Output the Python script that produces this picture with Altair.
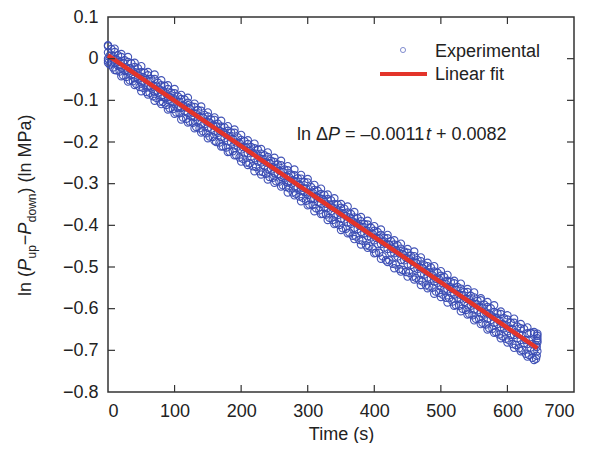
import altair as alt
import pandas as pd

FONT = "Liberation Sans"
BLUE = "#3a4cb4"
RED = "#e3342a"

# time grids of the sampled band (s): two staggered grids and a sparse one
t_vals = list(range(0, 650, 5))
t_half = [0, 2.5, 7.5, 12.5, 17.5, 22.5, 27.5, 32.5, 37.5, 42.5] + list(
    v + 2.5 for v in range(45, 640, 5)) + [643]
t_ten = list(range(0, 650, 10))

# outermost upper circles of the band
top = [0.032, 0.024, 0.011, 0.004, -0.010, -0.018, -0.032, -0.038, -0.052, -0.064,
       -0.073, -0.087, -0.094, -0.108, -0.115, -0.129, -0.141, -0.149, -0.162, -0.170,
       -0.183, -0.196, -0.204, -0.217, -0.225, -0.238, -0.245, -0.258, -0.266, -0.279,
       -0.289, -0.303, -0.312, -0.326, -0.335, -0.349, -0.355, -0.368, -0.380, -0.389,
       -0.402, -0.410, -0.423, -0.436, -0.444, -0.457, -0.463, -0.477, -0.490, -0.498,
       -0.510, -0.519, -0.533, -0.540, -0.553, -0.561, -0.575, -0.584, -0.592, -0.607,
       -0.616, -0.624, -0.637, -0.645, -0.656]

# upper edge of the dense band
hi = [0.030, 0.023, 0.016, 0.008, 0.004, -0.004, -0.008, -0.011, -0.020, -0.023,
      -0.032, -0.034, -0.040, -0.049, -0.049, -0.058, -0.064, -0.065, -0.073, -0.082,
      -0.083, -0.091, -0.097, -0.098, -0.106, -0.114, -0.116, -0.123, -0.125, -0.135,
      -0.139, -0.146, -0.147, -0.156, -0.163, -0.165, -0.173, -0.177, -0.178, -0.189,
      -0.195, -0.198, -0.205, -0.212, -0.215, -0.218, -0.228, -0.232, -0.236, -0.245,
      -0.248, -0.254, -0.256, -0.266, -0.268, -0.278, -0.280, -0.287, -0.288, -0.296,
      -0.297, -0.308, -0.315, -0.317, -0.325, -0.327, -0.337, -0.340, -0.349, -0.350,
      -0.358, -0.360, -0.369, -0.373, -0.381, -0.383, -0.390, -0.397, -0.398, -0.406,
      -0.413, -0.416, -0.423, -0.430, -0.431, -0.438, -0.446, -0.448, -0.456, -0.463,
      -0.466, -0.473, -0.474, -0.483, -0.486, -0.496, -0.498, -0.501, -0.511, -0.514,
      -0.521, -0.524, -0.533, -0.536, -0.539, -0.548, -0.552, -0.560, -0.560, -0.569,
      -0.573, -0.581, -0.580, -0.590, -0.596, -0.599, -0.608, -0.611, -0.613, -0.623,
      -0.626, -0.634, -0.634, -0.643, -0.647, -0.649, -0.659, -0.658, -0.660, -0.660]

# upper-middle of the band
mh = [0.015, 0.007, 0.005, -0.003, -0.008, -0.010, -0.021, -0.023, -0.031, -0.033,
      -0.042, -0.044, -0.051, -0.054, -0.064, -0.067, -0.074, -0.077, -0.084, -0.092,
      -0.094, -0.103, -0.104, -0.112, -0.117, -0.119, -0.130, -0.132, -0.140, -0.142,
      -0.151, -0.153, -0.160, -0.163, -0.173, -0.176, -0.183, -0.186, -0.193, -0.201,
      -0.203, -0.212, -0.213, -0.221, -0.226, -0.228, -0.239, -0.241, -0.249, -0.251,
      -0.260, -0.262, -0.269, -0.272, -0.282, -0.285, -0.292, -0.295, -0.302, -0.310,
      -0.312, -0.321, -0.322, -0.330, -0.335, -0.337, -0.348, -0.350, -0.358, -0.360,
      -0.369, -0.371, -0.378, -0.381, -0.391, -0.394, -0.401, -0.404, -0.411, -0.419,
      -0.421, -0.430, -0.431, -0.439, -0.444, -0.446, -0.457, -0.459, -0.467, -0.469,
      -0.478, -0.480, -0.487, -0.490, -0.500, -0.503, -0.510, -0.513, -0.520, -0.528,
      -0.530, -0.539, -0.540, -0.548, -0.553, -0.555, -0.566, -0.568, -0.576, -0.578,
      -0.587, -0.589, -0.596, -0.599, -0.609, -0.612, -0.619, -0.622, -0.629, -0.637,
      -0.639, -0.648, -0.649, -0.657, -0.662, -0.664, -0.675, -0.677, -0.685, -0.687]

# lower-middle of the band
ml = [0.000, -0.009, -0.009, -0.017, -0.021, -0.029, -0.031, -0.039, -0.047, -0.048,
      -0.057, -0.059, -0.066, -0.069, -0.079, -0.082, -0.089, -0.092, -0.099, -0.102,
      -0.109, -0.118, -0.118, -0.126, -0.130, -0.138, -0.140, -0.148, -0.156, -0.157,
      -0.166, -0.168, -0.175, -0.178, -0.188, -0.191, -0.198, -0.201, -0.208, -0.211,
      -0.218, -0.227, -0.227, -0.235, -0.239, -0.247, -0.249, -0.257, -0.265, -0.266,
      -0.275, -0.277, -0.284, -0.287, -0.297, -0.300, -0.307, -0.310, -0.317, -0.320,
      -0.327, -0.336, -0.336, -0.344, -0.348, -0.356, -0.358, -0.366, -0.374, -0.375,
      -0.384, -0.386, -0.393, -0.396, -0.406, -0.409, -0.416, -0.419, -0.426, -0.429,
      -0.436, -0.445, -0.445, -0.453, -0.457, -0.465, -0.467, -0.475, -0.483, -0.484,
      -0.493, -0.495, -0.502, -0.505, -0.515, -0.518, -0.525, -0.528, -0.535, -0.538,
      -0.545, -0.554, -0.554, -0.562, -0.566, -0.574, -0.576, -0.584, -0.592, -0.593,
      -0.602, -0.604, -0.611, -0.614, -0.624, -0.627, -0.634, -0.637, -0.644, -0.647,
      -0.654, -0.663, -0.663, -0.671, -0.675, -0.683, -0.685, -0.693, -0.701, -0.702]

# lower edge of the dense band
lo = [-0.005, -0.014, -0.021, -0.028, -0.031, -0.040, -0.044, -0.052, -0.054, -0.061,
      -0.068, -0.070, -0.080, -0.082, -0.090, -0.094, -0.103, -0.104, -0.111, -0.119,
      -0.121, -0.129, -0.131, -0.141, -0.144, -0.151, -0.154, -0.164, -0.167, -0.174,
      -0.179, -0.187, -0.188, -0.200, -0.201, -0.210, -0.213, -0.223, -0.222, -0.231,
      -0.237, -0.240, -0.249, -0.251, -0.258, -0.260, -0.270, -0.272, -0.276, -0.284,
      -0.286, -0.294, -0.295, -0.304, -0.308, -0.311, -0.321, -0.324, -0.331, -0.334,
      -0.341, -0.350, -0.351, -0.359, -0.364, -0.372, -0.374, -0.382, -0.387, -0.395,
      -0.399, -0.407, -0.408, -0.417, -0.425, -0.427, -0.435, -0.437, -0.448, -0.450,
      -0.456, -0.466, -0.466, -0.474, -0.484, -0.484, -0.492, -0.494, -0.505, -0.507,
      -0.512, -0.514, -0.523, -0.526, -0.532, -0.535, -0.544, -0.547, -0.550, -0.559,
      -0.562, -0.566, -0.574, -0.575, -0.583, -0.591, -0.593, -0.600, -0.603, -0.612,
      -0.616, -0.624, -0.625, -0.634, -0.638, -0.647, -0.648, -0.656, -0.662, -0.666,
      -0.672, -0.676, -0.685, -0.687, -0.695, -0.699, -0.708, -0.711, -0.718, -0.720]

# outermost lower circles of the band
bottom = [-0.010, -0.027, -0.042, -0.055, -0.063, -0.078, -0.086, -0.101, -0.109, -0.122,
          -0.132, -0.146, -0.153, -0.167, -0.177, -0.191, -0.197, -0.211, -0.224, -0.232,
          -0.247, -0.255, -0.270, -0.278, -0.290, -0.298, -0.307, -0.321, -0.328, -0.342,
          -0.352, -0.366, -0.373, -0.387, -0.397, -0.411, -0.419, -0.433, -0.446, -0.454,
          -0.467, -0.480, -0.488, -0.503, -0.511, -0.523, -0.530, -0.543, -0.551, -0.564,
          -0.572, -0.585, -0.593, -0.606, -0.614, -0.628, -0.637, -0.650, -0.658, -0.671,
          -0.681, -0.694, -0.702, -0.715, -0.723]

# extra points stacked at the end of the record (t = 645 s)
end_t = [645, 645, 645, 645, 644, 644]
end_y = [-0.665, -0.671, -0.677, -0.681, -0.692, -0.713]

# linear fit end points
fit_t = [0, 645]
fit_y = [0.008, -0.695]

x_ticks = [0, 100, 200, 300, 400, 500, 600, 700]
y_ticks = [0.1, 0.0, -0.1, -0.2, -0.3, -0.4, -0.5, -0.6, -0.7, -0.8]
x_inner = [100, 200, 300, 400, 500, 600]
y_inner = [0.0, -0.1, -0.2, -0.3, -0.4, -0.5, -0.6, -0.7]

W, H = 466, 375

rows = []
for grid, series in ((t_ten, top), (t_vals, hi), (t_half, mh), (t_vals, ml),
                     (t_half, lo), (t_ten, bottom), (end_t, end_y)):
    for t, v in zip(grid, series):
        rows.append({"t": t, "y": v})
df = pd.DataFrame(rows)
fit_df = pd.DataFrame({"t": fit_t, "y": fit_y})

xs = alt.Scale(domain=[0, 700], nice=False, zero=False)
ys = alt.Scale(domain=[-0.8, 0.1], nice=False, zero=False)

x_axis = alt.Axis(values=x_ticks, format="d", title="Time (s)", ticks=False,
                  domain=False, grid=False, labelPadding=10, titlePadding=5)
y_axis = alt.Axis(values=y_ticks, title="", ticks=False, domain=False, grid=False,
                  labelPadding=10,
                  labelExpr="datum.value == 0 ? '0' : format(datum.value, '.1f')")

pts = alt.Chart(df).mark_point(
    shape="circle", filled=False, size=54, strokeWidth=1.1, color=BLUE, opacity=0.95
).encode(
    x=alt.X("t:Q", scale=xs, axis=x_axis, title="Time (s)"),
    y=alt.Y("y:Q", scale=ys, axis=y_axis, title=""),
)

fit = alt.Chart(fit_df).mark_line(color=RED, strokeWidth=4.5).encode(
    x=alt.X("t:Q", scale=xs, title="Time (s)"),
    y=alt.Y("y:Q", scale=ys, title=""),
)

xt_df = pd.DataFrame({"t": x_inner})
yt_df = pd.DataFrame({"y": y_inner})
tick_style = dict(color="#333", strokeWidth=1.2)
tb = alt.Chart(xt_df).mark_rule(**tick_style).encode(
    x=alt.X("t:Q", scale=xs, title="Time (s)"), y=alt.value(H), y2=alt.value(H - 7))
tt = alt.Chart(xt_df).mark_rule(**tick_style).encode(
    x=alt.X("t:Q", scale=xs, title="Time (s)"), y=alt.value(0), y2=alt.value(7))
tl = alt.Chart(yt_df).mark_rule(**tick_style).encode(
    y=alt.Y("y:Q", scale=ys, title=""), x=alt.value(0), x2=alt.value(7))
tr = alt.Chart(yt_df).mark_rule(**tick_style).encode(
    y=alt.Y("y:Q", scale=ys, title=""), x=alt.value(W), x2=alt.value(W - 7))

one = pd.DataFrame({"a": [0]})

def ptext(txt, x, y, size=18, style="normal", angle=0):
    kw = dict(text=txt, fontSize=size, font=FONT, fontStyle=style, align="left",
              baseline="alphabetic", color="#222")
    if angle:
        kw["angle"] = angle
    return alt.Chart(one).mark_text(**kw).encode(x=alt.value(x), y=alt.value(y))

# legend
leg_pt = alt.Chart(one).mark_point(shape="circle", filled=False, size=26,
                                   strokeWidth=0.9, color=BLUE).encode(
    x=alt.value(295), y=alt.value(33))
leg_ln = alt.Chart(one).mark_rule(color=RED, strokeWidth=4).encode(
    x=alt.value(272), x2=alt.value(319), y=alt.value(57))
leg_t1 = ptext("Experimental", 327, 40)
leg_t2 = ptext("Linear fit", 327, 63)

# equation annotation
anc = pd.DataFrame({"t": [284], "y": [-0.195]})

def eq(txt, dx, style="normal"):
    return alt.Chart(anc).mark_text(text=txt, fontSize=18, font=FONT, fontStyle=style,
                                    align="left", baseline="alphabetic", dx=dx,
                                    color="#222").encode(
        x=alt.X("t:Q", scale=xs, title="Time (s)"),
        y=alt.Y("y:Q", scale=ys, title=""))

eq_layers = [
    eq("ln \u0394", 0),
    eq("P", 31, "italic"),
    eq("= \u20130.0011", 48),
    eq("t", 129, "italic"),
    eq("+ 0.0082", 139),
]

# y-axis title with italics and subscripts
yx, sx = -77, -72
ytitle = [
    ptext("ln (", yx, 279, angle=270),
    ptext("P", yx, 254, style="italic", angle=270),
    ptext("up", sx, 241.5, size=12, angle=270),
    ptext("\u2212", yx, 228.2, angle=270),
    ptext("P", yx, 217.7, style="italic", angle=270),
    ptext("down", sx, 205.2, size=12, angle=270),
    ptext(") (ln MPa)", yx, 176.5, angle=270),
]

chart = alt.layer(
    pts, fit, tb, tt, tl, tr, leg_pt, leg_ln, leg_t1, leg_t2, *eq_layers, *ytitle
).properties(
    width=W, height=H,
    autosize=alt.AutoSizeParams(type="none"),
    padding={"left": 100, "top": 9, "right": 18, "bottom": 51},
).configure_view(
    stroke="#333", strokeWidth=1.5
).configure_axis(
    labelFont=FONT, labelFontSize=18, labelColor="#222",
    titleFont=FONT, titleFontSize=18, titleColor="#222", titleFontWeight="normal",
)

chart.save("out.html", embed_options={"renderer": "svg", "actions": False})
